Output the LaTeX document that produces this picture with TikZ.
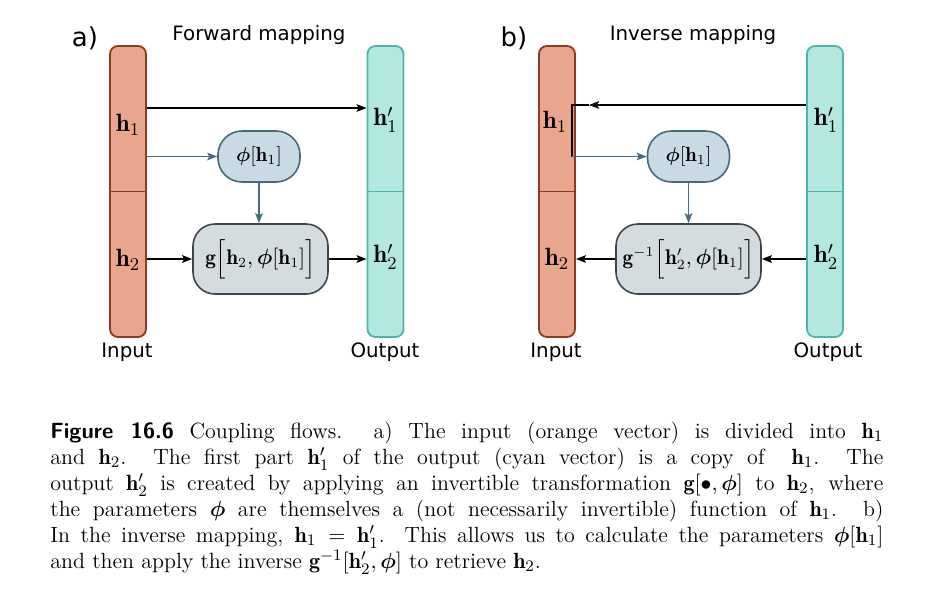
\documentclass[tikz,border=0pt]{standalone}
\usepackage{amsmath,bm}
\usepackage{fontspec}
\newfontfamily\lblfont{DejaVu Sans}
\usetikzlibrary{arrows.meta}
\definecolor{orfill}{HTML}{E9A68C}
\definecolor{orline}{HTML}{8C3A20}
\definecolor{cyfill}{HTML}{B2E8DF}
\definecolor{cyline}{HTML}{4FB5AA}
\definecolor{phifill}{HTML}{C8DAE3}
\definecolor{philine}{HTML}{456A80}
\definecolor{gfill}{HTML}{D5DCE0}
\definecolor{gline}{HTML}{3F4448}
\definecolor{steel}{HTML}{4A6B80}
\begin{document}
\begin{tikzpicture}[x=0.5pt,y=-0.5pt,
  inbar/.style={draw=orline, fill=orfill, line width=0.9pt, rounded corners=4pt, minimum width=18pt, minimum height=145.5pt, inner sep=0pt},
  outbar/.style={draw=cyline, fill=cyfill, line width=0.9pt, rounded corners=4pt, minimum width=18pt, minimum height=145.5pt, inner sep=0pt},
  phibox/.style={draw=philine, fill=phifill, line width=0.8pt, rounded corners=12pt, minimum width=41pt, minimum height=25.5pt, inner sep=0pt, font=\fontsize{10.2}{12}\selectfont},
  gbox/.style={draw=gline, fill=gfill, line width=0.8pt, rounded corners=11pt, minimum height=35pt, inner sep=0pt, font=\fontsize{10.6}{12}\selectfont},
  vlab/.style={inner sep=0pt, font=\fontsize{12.5}{14}\selectfont},
  slab/.style={inner sep=0pt, font=\lblfont\fontsize{9.9}{12}\selectfont},
  plab/.style={inner sep=0pt, font=\lblfont\fontsize{13}{15}\selectfont},
  blk/.style={draw=black, line width=0.9pt, -{Stealth[length=5pt,width=3.8pt,inset=1pt]}},
  stl/.style={draw=steel, line width=0.75pt, -{Stealth[length=5pt,width=3.8pt,inset=1pt]}},
  plainblk/.style={draw=black, line width=0.9pt}
]
\useasboundingbox (0,0) rectangle (928,590);

% ---------- panel a ----------
\node[plab] (pa) at (85,38) {a)};
\node[slab] (ta) at (259,35) {Forward mapping};
\node[inbar] (inA) at (128,191.5) {};
\node[outbar] (outA) at (385.5,191.5) {};
\draw[orline, line width=0.9pt] (inA.west) -- (inA.east);
\draw[cyline, line width=0.9pt] (outA.west) -- (outA.east);
\node[vlab] (h1a) at (128,125) {$\mathbf{h}_1$};
\node[vlab] (h2a) at (128,260) {$\mathbf{h}_2$};
\node[vlab] (h1pa) at (385.5,120) {$\mathbf{h}'_1$};
\node[vlab] (h2pa) at (385.5,257) {$\mathbf{h}'_2$};
\node[slab] (inLa) at (127,352) {Input};
\node[slab] (outLa) at (385,352) {Output};
\node[phibox] (phiA) at (259,156.5) {$\bm{\phi}[\mathbf{h}_1]$};
\node[gbox, minimum width=67.5pt] (gA) at (260.5,259) {$\mathbf{g}\Big[\mathbf{h}_2,\bm{\phi}[\mathbf{h}_1]\Big]$};
\draw[blk] (inA.east |- 0,108) -- (outA.west |- 0,108);
\draw[stl] (inA.east |- phiA) -- (phiA.west);
\draw[stl] (phiA.south) -- (phiA.south |- gA.north);
\draw[blk] (inA.east |- gA) -- (gA.west);
\draw[blk] (gA.east) -- (outA.west |- gA);

% ---------- panel b ----------
\node[plab] (pb) at (514,38) {b)};
\node[slab] (tb) at (693,35) {Inverse mapping};
\node[inbar] (inB) at (557,191.5) {};
\node[outbar] (outB) at (825,191.5) {};
\draw[orline, line width=0.9pt] (inB.west) -- (inB.east);
\draw[cyline, line width=0.9pt] (outB.west) -- (outB.east);
\node[vlab] (h1b) at (555,122) {$\mathbf{h}_1$};
\node[vlab] (h2b) at (557,259) {$\mathbf{h}_2$};
\node[vlab] (h1pb) at (826,120) {$\mathbf{h}'_1$};
\node[vlab] (h2pb) at (826,257) {$\mathbf{h}'_2$};
\node[slab] (inLb) at (556,352) {Input};
\node[slab] (outLb) at (828,352) {Output};
\node[phibox] (phiB) at (688.5,156.5) {$\bm{\phi}[\mathbf{h}_1]$};
\node[gbox, minimum width=72.5pt] (gB) at (688.5,259) {$\mathbf{g}^{-1}\Big[\mathbf{h}'_2,\bm{\phi}[\mathbf{h}_1]\Big]$};
\coordinate (tipB) at (589,105);
\coordinate (cornB1) at (572,105);
\coordinate (cornB2) at (572,156.5);
\draw[blk] (outB.west |- tipB) -- (tipB);
\draw[plainblk, line join=miter] (tipB) -- (cornB1) -- (cornB2);
\draw[stl] (cornB2) -- (phiB.west);
\draw[stl] (phiB.south) -- (phiB.south |- gB.north);
\draw[blk] (outB.west |- gB) -- (gB.east);
\draw[blk] (gB.west) -- (inB.east |- gB);

% ---------- caption ----------
\node[anchor=north west, inner sep=0pt, text width=416.5pt, align=justify,
      font=\fontsize{11}{13}\selectfont] (cap) at (50,421.5)
{\textsf{\bfseries Figure 16.6} Coupling flows.\ \ a) The input (orange vector) is divided into $\mathbf{h}_1$\linebreak
and $\mathbf{h}_2$.\ \ The first part $\mathbf{h}'_1$ of the output (cyan vector) is a copy of\ \ $\mathbf{h}_1$.\ \ The\linebreak
output $\mathbf{h}'_2$ is created by applying an invertible transformation $\mathbf{g}[\bullet,\bm{\phi}]$ to $\mathbf{h}_2$, where\linebreak
the parameters $\bm{\phi}$ are themselves a (not necessarily invertible) function of $\mathbf{h}_1$. b)\linebreak
In the inverse mapping, $\mathbf{h}_1=\mathbf{h}'_1$. This allows us to calculate the parameters $\bm{\phi}[\mathbf{h}_1]$\linebreak
and then apply the inverse $\mathbf{g}^{-1}[\mathbf{h}'_2,\bm{\phi}]$ to retrieve $\mathbf{h}_2$.};
\end{tikzpicture}
\end{document}
